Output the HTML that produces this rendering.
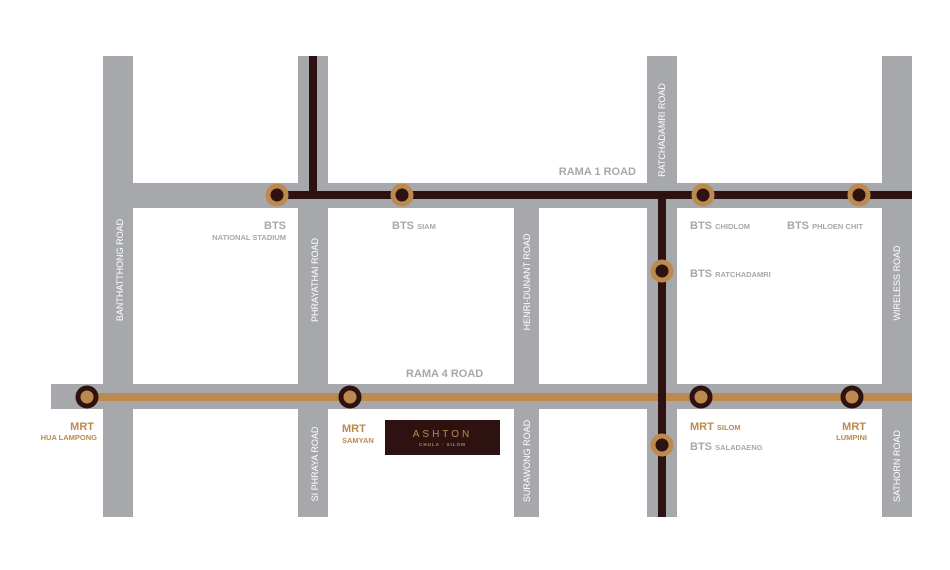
<!DOCTYPE html>
<html><head><meta charset="utf-8"><style>html,body{margin:0;padding:0;background:#fff}svg{display:block}</style></head><body>
<svg width="950" height="570" xmlns="http://www.w3.org/2000/svg" font-family="Liberation Sans, sans-serif" font-weight="bold">
<rect width="950" height="570" fill="#fff"/>
<g fill="#a7a8ab">
<rect x="103" y="56" width="30" height="461"/>
<rect x="298" y="56" width="30" height="461"/>
<rect x="514" y="208" width="25" height="309"/>
<rect x="647" y="56" width="30" height="461"/>
<rect x="882" y="56" width="30" height="461"/>
<rect x="103" y="183" width="809" height="25"/>
<rect x="51" y="384" width="861" height="25"/>
</g>
<g fill="#2e1212">
<rect x="309" y="56" width="8" height="143"/>
<rect x="277" y="191" width="635" height="8"/>
<rect x="658" y="191" width="8" height="326"/>
</g>
<rect x="87" y="393" width="825" height="8" fill="#bd8a4e"/>
<rect x="658" y="391" width="8" height="12" fill="#2e1212"/>
<g fill="#2e1212" stroke="#bd8a4e" stroke-width="5">
<circle cx="277" cy="195" r="9"/><circle cx="402" cy="195" r="9"/><circle cx="703" cy="195" r="9"/><circle cx="859" cy="195" r="9"/><circle cx="662" cy="271" r="9"/><circle cx="662" cy="445" r="9"/>
</g>
<g fill="#bd8a4e" stroke="#2e1212" stroke-width="5">
<circle cx="87" cy="397" r="9"/><circle cx="350" cy="397" r="9"/><circle cx="701" cy="397" r="9"/><circle cx="852" cy="397" r="9"/>
</g>
<rect x="385" y="420" width="115" height="35" fill="#2e1212"/>
<text x="442.5" y="437" fill="#bd8a4e" font-size="10" font-weight="normal" text-anchor="middle" letter-spacing="3">ASHTON</text>
<text x="442.5" y="446" fill="#bd8a4e" font-size="4.5" text-anchor="middle" letter-spacing="1">CHULA · SILOM</text>
<g fill="#fff" font-size="9" font-weight="normal" text-anchor="middle">
<text transform="translate(123,270) rotate(-90)">BANTHATTHONG ROAD</text>
<text transform="translate(318,280) rotate(-90)">PHRAYATHAI ROAD</text>
<text transform="translate(318,464) rotate(-90)">SI PHRAYA ROAD</text>
<text transform="translate(530,282) rotate(-90)">HENRI-DUNANT ROAD</text>
<text transform="translate(530,461) rotate(-90)">SURAWONG ROAD</text>
<text transform="translate(665,130) rotate(-90)">RATCHADAMRI ROAD</text>
<text transform="translate(900,283) rotate(-90)">WIRELESS ROAD</text>
<text transform="translate(900,466) rotate(-90)">SATHORN ROAD</text>
</g>
<g fill="#a7a8ab" font-size="11">
<text x="636" y="175" text-anchor="end">RAMA 1 ROAD</text>
<text x="406" y="377">RAMA 4 ROAD</text>
<text x="286" y="229" text-anchor="end">BTS</text>
<text x="286" y="240" text-anchor="end" font-size="7.5">NATIONAL STADIUM</text>
<text x="392" y="229">BTS <tspan font-size="7.5">SIAM</tspan></text>
<text x="690" y="229">BTS <tspan font-size="7.5">CHIDLOM</tspan></text>
<text x="787" y="229">BTS <tspan font-size="7.5">PHLOEN CHIT</tspan></text>
<text x="690" y="277">BTS <tspan font-size="7.5">RATCHADAMRI</tspan></text>
<text x="690" y="450">BTS <tspan font-size="7.5">SALADAENG</tspan></text>
</g>
<g fill="#bd8a4e" font-size="11">
<text x="94" y="430" text-anchor="end">MRT</text>
<text x="97" y="440" text-anchor="end" font-size="7.5">HUA LAMPONG</text>
<text x="342" y="432">MRT</text>
<text x="342" y="443" font-size="7.5">SAMYAN</text>
<text x="690" y="430">MRT <tspan font-size="7.5">SILOM</tspan></text>
<text x="866" y="430" text-anchor="end">MRT</text>
<text x="867" y="440" text-anchor="end" font-size="7.5">LUMPINI</text>
</g>
</svg>
</body></html>
